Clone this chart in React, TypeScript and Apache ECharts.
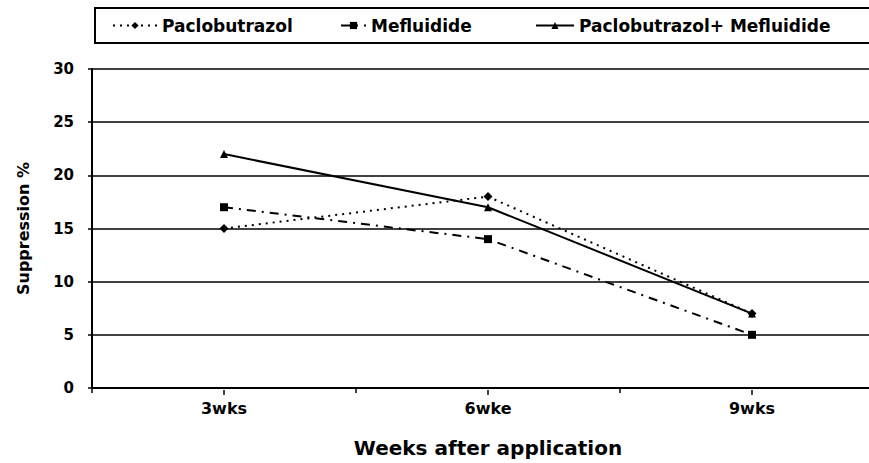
import React, { useEffect, useRef } from "react";
import * as echarts from "echarts";

const categories = ["3wks", "6wke", "9wks"];
const paclobutrazol = [15, 18, 7];
const mefluidide = [17, 14, 5];
const combined = [22, 17, 7];
const seriesNames = ["Paclobutrazol", "Mefluidide", "Paclobutrazol+ Mefluidide"];

const FONT = "DejaVu Sans";

export default function App() {
  const ref = useRef<HTMLDivElement>(null);
  useEffect(() => {
    if (!ref.current) return;
    document.body.style.overflow = "hidden";
    const chart = echarts.init(ref.current, null, { renderer: "svg" });
    const legendText = { color: "#000", fontFamily: FONT, fontWeight: "bold", fontSize: 17 };
    const mkLegend = (name: string, left: number, w: number) => ({
      data: [name],
      left,
      top: 17,
      itemWidth: w,
      itemHeight: 9,
      itemGap: 4,
      padding: 0,
      textStyle: legendText,
    });
    chart.setOption({
      animation: false,
      backgroundColor: "#fff",
      grid: [
        { left: 92, top: 69, right: 0, height: 321 },
        { left: 92, top: 69, right: 0, height: 321 },
      ],
      legend: [
        mkLegend(seriesNames[0], 112, 44),
        mkLegend(seriesNames[1], 340, 25),
        mkLegend(seriesNames[2], 535, 38),
      ],
      graphic: [
        {
          type: "rect",
          shape: { x: 95, y: 8, width: 800, height: 35 },
          style: { fill: "none", stroke: "#000", lineWidth: 2 },
          z: 10,
        },
      ],
      xAxis: [
        {
          type: "category",
          gridIndex: 0,
          data: categories,
          boundaryGap: true,
          name: "Weeks after application",
          nameLocation: "middle",
          nameGap: 50,
          nameTextStyle: { color: "#000", fontFamily: FONT, fontWeight: "bold", fontSize: 20 },
          axisLine: { lineStyle: { color: "#000", width: 2 } },
          axisTick: { show: true, length: 5, lineStyle: { color: "#000", width: 1.5 } },
          axisLabel: { color: "#000", fontFamily: FONT, fontWeight: "bold", fontSize: 16, margin: 12 },
        },
        {
          type: "category",
          gridIndex: 1,
          data: categories,
          boundaryGap: true,
          axisLine: { show: false },
          axisTick: { show: true, alignWithLabel: true, length: 5, lineStyle: { color: "#000", width: 1.5 } },
          axisLabel: { show: false },
        },
      ],
      yAxis: [
        {
          type: "value",
          gridIndex: 0,
          min: 0,
          max: 30,
          interval: 5,
          name: "Suppression %",
          nameLocation: "middle",
          nameGap: 61,
          nameTextStyle: { color: "#000", fontFamily: FONT, fontWeight: "bold", fontSize: 16 },
          axisLine: { show: true, lineStyle: { color: "#000", width: 2 } },
          axisTick: { show: true, length: 4, lineStyle: { color: "#000", width: 1.5 } },
          axisLabel: { color: "#000", fontFamily: FONT, fontWeight: "bold", fontSize: 15, margin: 18 },
          splitLine: { show: true, lineStyle: { color: "#000", width: 1.5 } },
        },
        {
          type: "value",
          gridIndex: 1,
          min: 0,
          max: 30,
          interval: 5,
          show: false,
        },
      ],
      series: [
        {
          name: seriesNames[0],
          type: "line",
          data: paclobutrazol,
          symbol: "diamond",
          symbolSize: 9,
          itemStyle: { color: "#000" },
          lineStyle: { color: "#000", width: 2, type: [2, 5] },
        },
        {
          name: seriesNames[1],
          type: "line",
          data: mefluidide,
          symbol: "rect",
          symbolSize: 8,
          itemStyle: { color: "#000" },
          lineStyle: { color: "#000", width: 2, type: [9, 6, 2, 6] },
        },
        {
          name: seriesNames[2],
          type: "line",
          data: combined,
          symbol: "triangle",
          symbolSize: 8,
          itemStyle: { color: "#000" },
          lineStyle: { color: "#000", width: 2, type: "solid" },
        },
      ],
    });
    return () => chart.dispose();
  }, []);
  return (
    <div
      ref={ref}
      style={{ position: "fixed", left: 0, top: 0, width: 884, height: 463, background: "#fff" }}
    />
  );
}
